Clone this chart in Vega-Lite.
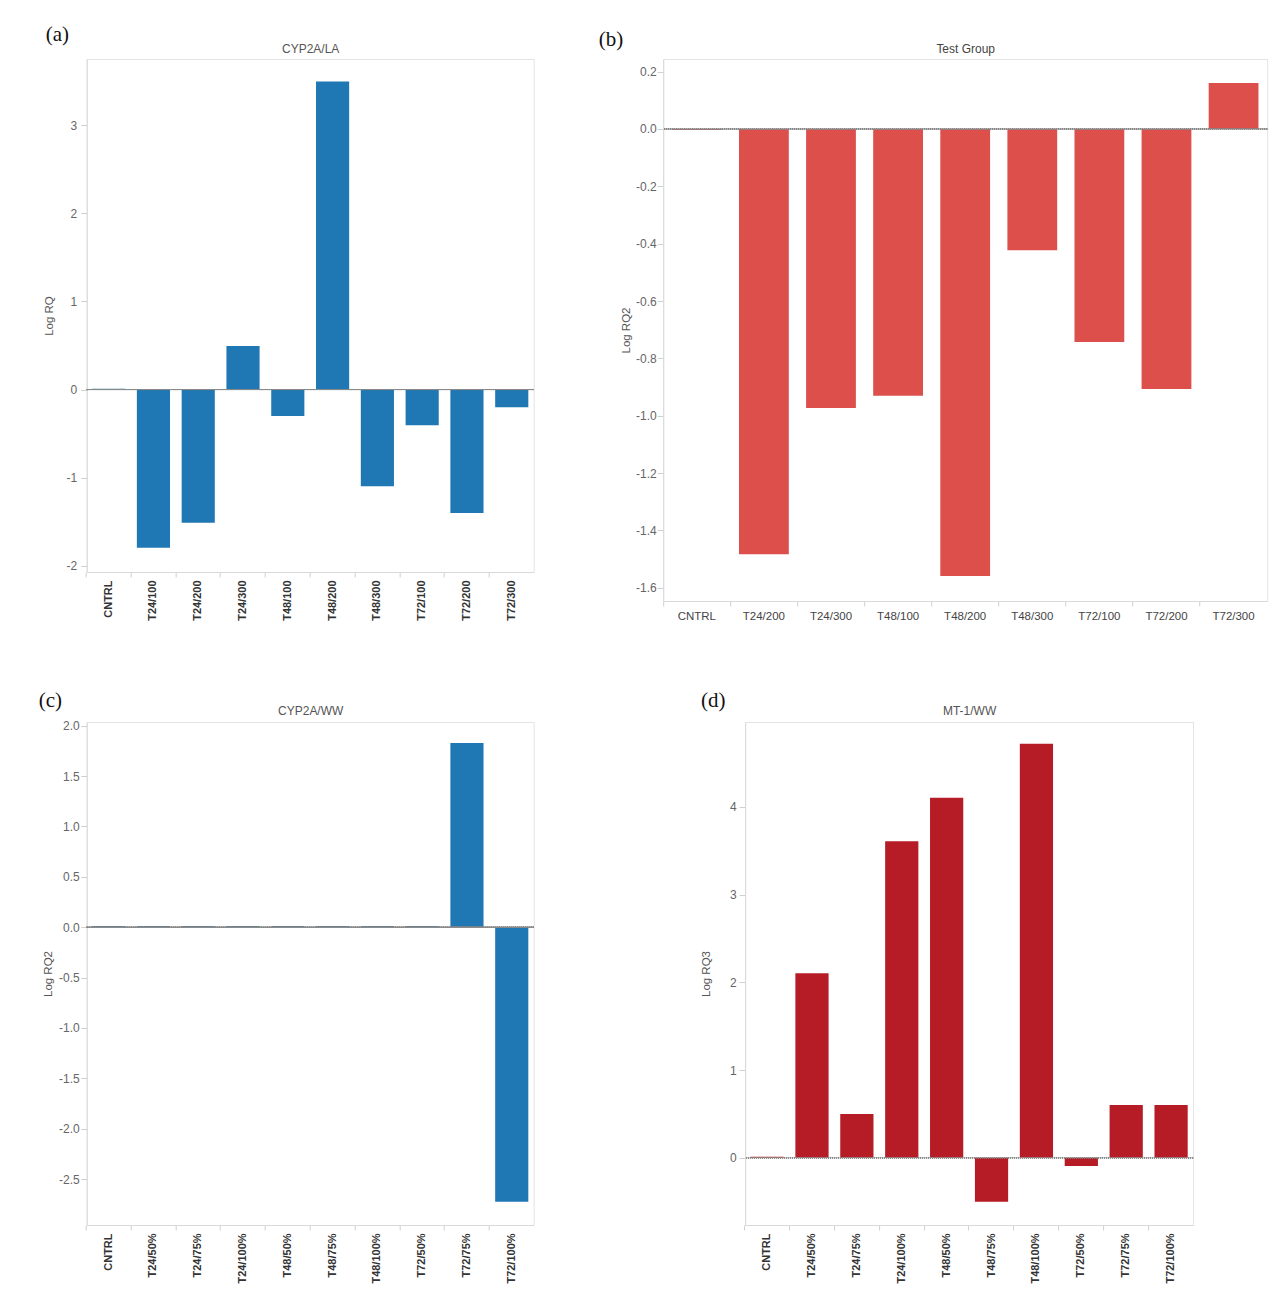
{
  "$schema": "https://vega.github.io/schema/vega-lite/v6.json",
  "padding": {"left": 37.7, "top": 23, "right": 5, "bottom": 5},
  "background": "white",
  "datasets": {
    "a": [
      {"group": "CNTRL", "value": 0.01},
      {"group": "T24/100", "value": -1.795},
      {"group": "T24/200", "value": -1.51},
      {"group": "T24/300", "value": 0.495},
      {"group": "T48/100", "value": -0.30},
      {"group": "T48/200", "value": 3.495},
      {"group": "T48/300", "value": -1.096},
      {"group": "T72/100", "value": -0.405},
      {"group": "T72/200", "value": -1.40},
      {"group": "T72/300", "value": -0.20}
    ],
    "b": [
      {"group": "CNTRL", "value": -0.004},
      {"group": "T24/200", "value": -1.483},
      {"group": "T24/300", "value": -0.973},
      {"group": "T48/100", "value": -0.930},
      {"group": "T48/200", "value": -1.559},
      {"group": "T48/300", "value": -0.423},
      {"group": "T72/100", "value": -0.743},
      {"group": "T72/200", "value": -0.907},
      {"group": "T72/300", "value": 0.160}
    ],
    "c": [
      {"group": "CNTRL", "value": 0.012},
      {"group": "T24/50%", "value": 0.012},
      {"group": "T24/75%", "value": 0.012},
      {"group": "T24/100%", "value": 0.012},
      {"group": "T48/50%", "value": 0.012},
      {"group": "T48/75%", "value": 0.012},
      {"group": "T48/100%", "value": 0.012},
      {"group": "T72/50%", "value": 0.012},
      {"group": "T72/75%", "value": 1.827},
      {"group": "T72/100%", "value": -2.724}
    ],
    "d": [
      {"group": "CNTRL", "value": 0.012},
      {"group": "T24/50%", "value": 2.105},
      {"group": "T24/75%", "value": 0.498},
      {"group": "T24/100%", "value": 3.609},
      {"group": "T48/50%", "value": 4.106},
      {"group": "T48/75%", "value": -0.501},
      {"group": "T48/100%", "value": 4.721},
      {"group": "T72/50%", "value": -0.095},
      {"group": "T72/75%", "value": 0.60},
      {"group": "T72/100%", "value": 0.60}
    ]
  },
  "config": {
    "font": "Liberation Sans",
    "view": {"stroke": "#e3e3e3", "strokeWidth": 1},
    "axis": {
      "grid": false,
      "domainColor": "#d9d9d9",
      "tickColor": "#d0d0d0",
      "tickSize": 6,
      "labelColor": "#666666",
      "labelFont": "Liberation Sans",
      "labelFontSize": 12,
      "titleColor": "#555555",
      "titleFont": "Liberation Sans",
      "titleFontSize": 11.5,
      "titleFontWeight": "normal"
    },
    "title": {
      "font": "Liberation Serif",
      "fontSize": 21,
      "fontWeight": "normal",
      "color": "#111111",
      "anchor": "start",
      "frame": "group"
    },
    "locale": {
      "number": {"decimal": ".", "thousands": ",", "grouping": [3], "currency": ["$", ""], "minus": "-"}
    }
  },
  "spacing": 67,
  "vconcat": [
    {
      "hconcat": [
        {
          "width": 447,
          "height": 513,
          "data": {"name": "a"},
          "title": {"text": "(a)", "dx": -41, "offset": -3.3},
          "resolve": {"axis": {"x": "independent"}},
          "layer": [
            {
              "mark": {"type": "bar", "color": "#1f77b4"},
              "encoding": {
                "x": {
                  "field": "group", "type": "nominal", "sort": null,
                  "scale": {"paddingInner": 0.26, "paddingOuter": 0.12},
                  "axis": {"orient": "bottom", "title": null, "labelAngle": 270, "labelFontWeight": "bold", "labelColor": "#333333", "labelFontSize": 11, "bandPosition": -0.176, "tickSize": 5, "labelPadding": 3}
                },
                "y": {
                  "field": "value", "type": "quantitative",
                  "scale": {"domain": [-2.07, 3.75], "nice": false, "zero": false},
                  "axis": {"title": "Log RQ", "values": [-2, -1, 0, 1, 2, 3], "format": "d", "labelPadding": 4, "titlePadding": 12}
                }
              }
            },
            {
              "mark": {"type": "rule", "color": "#8a8a8a", "strokeDash": [1, 1], "strokeWidth": 1},
              "encoding": {"y": {"datum": 0}}
            },
            {
              "mark": {"type": "bar", "opacity": 0},
              "encoding": {
                "x": {
                  "field": "group", "type": "nominal", "sort": null,
                  "axis": {"orient": "top", "title": "CYP2A/LA", "labels": false, "ticks": false, "domain": false, "titlePadding": 4, "titleFontSize": 12}
                }
              }
            }
          ]
        },
        {
          "width": 604,
          "height": 542,
          "data": {"name": "b"},
          "title": {"text": "(b)", "dx": -64.5, "offset": -7.8},
          "resolve": {"axis": {"x": "independent"}},
          "layer": [
            {
              "mark": {"type": "bar", "color": "#dc4f4b"},
              "encoding": {
                "x": {
                  "field": "group", "type": "nominal", "sort": null,
                  "scale": {"paddingInner": 0.258, "paddingOuter": 0.13},
                  "axis": {"orient": "bottom", "title": null, "labelAngle": 0, "labelColor": "#444444", "labelFontSize": 11.5, "bandPosition": -0.174, "tickSize": 5, "labelPadding": 4}
                },
                "y": {
                  "field": "value", "type": "quantitative",
                  "scale": {"domain": [-1.646, 0.244], "nice": false, "zero": false},
                  "axis": {"title": "Log RQ2", "values": [-1.6, -1.4, -1.2, -1.0, -0.8, -0.6, -0.4, -0.2, 0.0, 0.2], "format": ".1f", "labelPadding": 1, "titlePadding": 4}
                }
              }
            },
            {
              "mark": {"type": "rule", "color": "#8a8a8a", "strokeDash": [1, 1], "strokeWidth": 1},
              "encoding": {"y": {"datum": 0}}
            },
            {
              "mark": {"type": "bar", "opacity": 0},
              "encoding": {
                "x": {
                  "field": "group", "type": "nominal", "sort": null,
                  "axis": {"orient": "top", "title": "Test Group", "labels": false, "ticks": false, "domain": false, "titlePadding": 4, "titleFontSize": 12, "titleColor": "#444444"}
                }
              }
            }
          ]
        }
      ],
      "spacing": 129.5,
      "bounds": "flush"
    },
    {
      "hconcat": [
        {
          "width": 447,
          "height": 503,
          "data": {"name": "c"},
          "title": {"text": "(c)", "dx": -48, "offset": -6.3},
          "resolve": {"axis": {"x": "independent"}},
          "layer": [
            {
              "mark": {"type": "bar", "color": "#1f77b4"},
              "encoding": {
                "x": {
                  "field": "group", "type": "nominal", "sort": null,
                  "scale": {"paddingInner": 0.26, "paddingOuter": 0.12},
                  "axis": {"orient": "bottom", "title": null, "labelAngle": 270, "labelFontWeight": "bold", "labelColor": "#333333", "labelFontSize": 11, "bandPosition": -0.176, "tickSize": 5, "labelPadding": 3}
                },
                "y": {
                  "field": "value", "type": "quantitative",
                  "scale": {"domain": [-2.955, 2.036], "nice": false, "zero": false},
                  "axis": {"title": "Log RQ2", "values": [-2.5, -2.0, -1.5, -1.0, -0.5, 0.0, 0.5, 1.0, 1.5, 2.0], "format": ".1f", "labelPadding": 1.5, "titlePadding": 5}
                }
              }
            },
            {
              "mark": {"type": "rule", "color": "#8a8a8a", "strokeDash": [1, 1], "strokeWidth": 1},
              "encoding": {"y": {"datum": 0}}
            },
            {
              "mark": {"type": "bar", "opacity": 0},
              "encoding": {
                "x": {
                  "field": "group", "type": "nominal", "sort": null,
                  "axis": {"orient": "top", "title": "CYP2A/WW", "labels": false, "ticks": false, "domain": false, "titlePadding": 4, "titleFontSize": 12}
                }
              }
            }
          ]
        },
        {
          "width": 448,
          "height": 503,
          "data": {"name": "d"},
          "title": {"text": "(d)", "dx": -44, "offset": -6},
          "resolve": {"axis": {"x": "independent"}},
          "layer": [
            {
              "mark": {"type": "bar", "color": "#b51c25"},
              "encoding": {
                "x": {
                  "field": "group", "type": "nominal", "sort": null,
                  "scale": {"paddingInner": 0.26, "paddingOuter": 0.12},
                  "axis": {"orient": "bottom", "title": null, "labelAngle": 270, "labelFontWeight": "bold", "labelColor": "#333333", "labelFontSize": 11, "bandPosition": -0.176, "tickSize": 5, "labelPadding": 3}
                },
                "y": {
                  "field": "value", "type": "quantitative",
                  "scale": {"domain": [-0.767, 4.969], "nice": false, "zero": false},
                  "axis": {"title": "Log RQ3", "values": [0, 1, 2, 3, 4], "format": "d", "labelPadding": 3, "titlePadding": 18}
                }
              }
            },
            {
              "mark": {"type": "rule", "color": "#8a8a8a", "strokeDash": [1, 1], "strokeWidth": 1},
              "encoding": {"y": {"datum": 0}}
            },
            {
              "mark": {"type": "bar", "opacity": 0},
              "encoding": {
                "x": {
                  "field": "group", "type": "nominal", "sort": null,
                  "axis": {"orient": "top", "title": "MT-1/WW", "labels": false, "ticks": false, "domain": false, "titlePadding": 4, "titleFontSize": 12}
                }
              }
            }
          ]
        }
      ],
      "spacing": 211.4,
      "bounds": "flush"
    }
  ]
}
